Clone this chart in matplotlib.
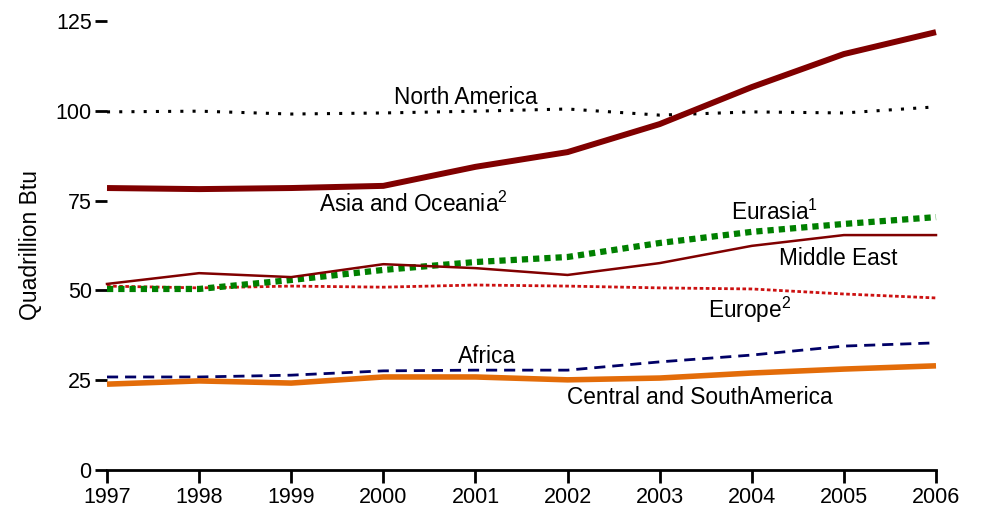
import matplotlib
matplotlib.use("Agg")
import matplotlib.pyplot as plt

plt.rcParams['font.family'] = ['Liberation Sans', 'DejaVu Sans']
plt.rcParams['mathtext.fontset'] = 'custom'
plt.rcParams['mathtext.rm'] = 'Liberation Sans'
plt.rcParams['mathtext.it'] = 'Liberation Sans'

years = [1997, 1998, 1999, 2000, 2001, 2002, 2003, 2004, 2005, 2006]
north_america = [99.7, 99.9, 99.1, 99.4, 99.9, 100.5, 98.8, 99.7, 99.4, 101.1]
asia_oceania = [78.5, 78.2, 78.5, 79.1, 84.4, 88.5, 96.3, 106.6, 115.8, 121.9]
middle_east = [51.8, 54.8, 53.7, 57.3, 56.2, 54.3, 57.6, 62.4, 65.4, 65.4]
eurasia = [50.4, 50.4, 52.9, 55.7, 57.9, 59.3, 63.2, 66.3, 68.5, 70.4]
europe = [51.2, 50.7, 51.2, 50.9, 51.5, 51.2, 50.7, 50.4, 49.0, 47.9]
africa = [25.9, 25.9, 26.4, 27.6, 27.8, 27.8, 30.1, 32.0, 34.5, 35.4]
central_south_america = [23.9, 24.8, 24.2, 25.9, 25.9, 25.1, 25.6, 27.0, 28.1, 29.0]

yticks = [0, 25, 50, 75, 100, 125]

fig = plt.figure(figsize=(9.84, 5.13), dpi=100)
ax = fig.add_axes([107/984, 1-470/513, (936-107)/984, (470-21)/513])

ax.plot(years, north_america, color='black', lw=2.2, linestyle=(0, (1, 3)), clip_on=False)
ax.plot(years, asia_oceania, color='#800000', lw=4.3, solid_capstyle='butt', clip_on=False)
ax.plot(years, europe, color='#cc1111', lw=2.0, linestyle=(0, (1.3, 0.9)), clip_on=False)
ax.plot(years, eurasia, color='#008000', lw=4.5, linestyle=(0, (1, 0.8)), clip_on=False)
ax.plot(years, middle_east, color='#800000', lw=1.8, clip_on=False)
ax.plot(years, africa, color='#000066', lw=2.0, linestyle=(0, (4, 2.5)), clip_on=False)
ax.plot(years, central_south_america, color='#e36c09', lw=4.0, solid_capstyle='butt', clip_on=False)

fs = 16.3
ax.text(2000.89, 103.8, 'North America', ha='center', va='center', fontsize=fs)
ax.text(2000.33, 74.1, 'Asia and Oceania$^{\\mathrm{2}}$', ha='center', va='center', fontsize=fs)
ax.text(2004.25, 71.8, 'Eurasia$^{\\mathrm{1}}$', ha='center', va='center', fontsize=fs)
ax.text(2004.94, 59.0, 'Middle East', ha='center', va='center', fontsize=fs)
ax.text(2003.98, 44.5, 'Europe$^{\\mathrm{2}}$', ha='center', va='center', fontsize=fs)
ax.text(2001.12, 31.5, 'Africa', ha='center', va='center', fontsize=fs)
ax.text(2003.44, 20.3, 'Central and SouthAmerica', ha='center', va='center', fontsize=fs)

ax.set_xlim(1997, 2006)
ax.set_ylim(0, 125)
ax.set_xticks(years)
ax.set_xticklabels([str(y) for y in years])
ax.set_yticks(yticks)
ax.set_yticklabels([str(v) for v in yticks])

for s in ['top', 'right', 'left']:
    ax.spines[s].set_visible(False)
ax.spines['bottom'].set_linewidth(2.0)
ax.tick_params(axis='both', labelsize=15.5, length=9, width=2.0, pad=2)
ax.tick_params(axis='x', pad=3)

ax.set_ylabel('Quadrillion Btu', fontsize=16.5, labelpad=10)

fig.savefig('out.png', dpi=100)
